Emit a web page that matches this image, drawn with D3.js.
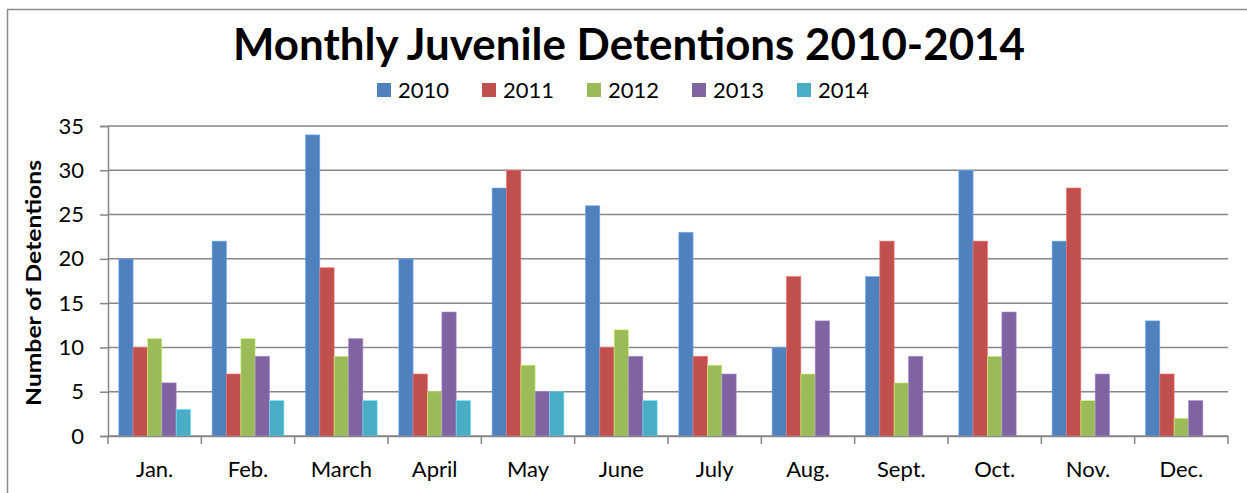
<!DOCTYPE html>
<html>
<head>
<meta charset="utf-8">
<script src="https://cdn.jsdelivr.net/npm/d3@7"></script>
<style>
  html, body { margin: 0; padding: 0; background: #fff; }
  svg { display: block; }
  text { font-family: Lato, "Open Sans", "Liberation Sans", sans-serif; fill: #000; }
</style>
</head>
<body>
<svg id="chart" width="1247" height="493"></svg>
<script>
// Monthly detention counts, one array per year
const months = ["Jan.", "Feb.", "March", "April", "May", "June", "July", "Aug.", "Sept.", "Oct.", "Nov.", "Dec."];
const years = ["2010", "2011", "2012", "2013", "2014"];
const values2010 = [20, 22, 34, 20, 28, 26, 23, 10, 18, 30, 22, 13];
const values2011 = [10, 7, 19, 7, 30, 10, 9, 18, 22, 22, 28, 7];
const values2012 = [11, 11, 9, 5, 8, 12, 8, 7, 6, 9, 4, 2];
const values2013 = [6, 9, 11, 14, 5, 9, 7, 13, 9, 14, 7, 4];
const values2014 = [3, 4, 4, 4, 5, 4, null, null, null, null, null, null];
const yTicks = [0, 5, 10, 15, 20, 25, 30, 35];
const colors = ["#4F81BD", "#C0504D", "#9BBB59", "#8064A2", "#4BACC6"];

const seriesValues = [values2010, values2011, values2012, values2013, values2014];

const svg = d3.select("#chart");
const plot = { left: 108, right: 1228, top: 126, bottom: 436 };

// Outer chart frame
svg.append("rect")
  .attr("x", 7.5).attr("y", 9.5)
  .attr("width", 1260).attr("height", 500)
  .attr("fill", "none").attr("stroke", "#8c8c8c").attr("stroke-width", 1.5);

const x0 = d3.scaleBand().domain(months).range([plot.left, plot.right]).paddingInner(0).paddingOuter(0);
// gap between groups is 1.5 bar widths
const barW = x0.bandwidth() / 6.5;
const x1 = d3.scaleBand().domain(years).range([barW * 0.75, barW * 5.75]);
const y = d3.scaleLinear().domain([0, 35]).range([plot.bottom, plot.top]);

// Horizontal gridlines
svg.append("g")
  .selectAll("line")
  .data(yTicks)
  .join("line")
  .attr("x1", plot.left).attr("x2", plot.right)
  .attr("y1", d => y(d)).attr("y2", d => y(d))
  .attr("stroke", "#878787").attr("stroke-width", 1.5);

// Bars
const groups = svg.append("g")
  .selectAll("g")
  .data(months)
  .join("g")
  .attr("transform", m => `translate(${x0(m)},0)`);

groups.selectAll("rect")
  .data((m, i) => years.map((yr, s) => ({ yr, s, v: seriesValues[s][i] })).filter(d => d.v != null && d.v > 0))
  .join("rect")
  .attr("x", d => x1(d.yr))
  .attr("width", x1.bandwidth())
  .attr("y", d => y(d.v))
  .attr("height", d => y(0) - y(d.v))
  .attr("fill", d => colors[d.s])
  .attr("stroke", d => d3.color(colors[d.s]).brighter(0.9))
  .attr("stroke-width", 0.8)
  .attr("stroke-opacity", 0.7);

// Y axis
const yAxis = svg.append("g")
  .attr("transform", `translate(${plot.left},0)`)
  .call(d3.axisLeft(y).tickValues(yTicks).tickSize(8).tickPadding(16));
yAxis.select(".domain").attr("stroke", "#878787").attr("stroke-width", 1.5);
yAxis.selectAll(".tick line").attr("stroke", "#878787").attr("stroke-width", 1.5);
yAxis.selectAll(".tick text")
  .attr("font-family", "Lato, 'Open Sans', sans-serif")
  .attr("font-size", 22).attr("fill", "#000");

// X axis
const xAxis = svg.append("g")
  .attr("transform", `translate(0,${plot.bottom})`)
  .call(d3.axisBottom(x0).tickSize(0).tickPadding(25));
xAxis.select(".domain").attr("stroke", "#878787").attr("stroke-width", 1.5);
xAxis.selectAll(".tick text")
  .attr("font-family", "Lato, 'Open Sans', sans-serif")
  .attr("font-size", 22).attr("fill", "#000");
// Category separators below the axis
xAxis.append("g")
  .selectAll("line")
  .data(d3.range(months.length + 1))
  .join("line")
  .attr("x1", i => plot.left + i * x0.bandwidth())
  .attr("x2", i => plot.left + i * x0.bandwidth())
  .attr("y1", 0).attr("y2", 8)
  .attr("stroke", "#878787").attr("stroke-width", 1.5);

// Title
svg.append("text")
  .attr("x", 629).attr("y", 60)
  .attr("text-anchor", "middle")
  .attr("font-size", 44).attr("font-weight", "bold")
  .attr("textLength", 792).attr("lengthAdjust", "spacingAndGlyphs")
  .text("Monthly Juvenile Detentions 2010-2014");

// Legend
const legend = svg.append("g")
  .selectAll("g")
  .data(years)
  .join("g")
  .attr("transform", (d, i) => `translate(${377 + i * 105},83)`);
legend.append("rect")
  .attr("width", 14).attr("height", 14)
  .attr("fill", (d, i) => colors[i]);
legend.append("text")
  .attr("x", 21).attr("y", 15)
  .attr("font-size", 22)
  .text(d => d);

// Y axis title
svg.append("text")
  .attr("transform", "translate(41,283) rotate(-90)")
  .attr("text-anchor", "middle")
  .attr("font-size", 20).attr("font-weight", "bold")
  .attr("textLength", 246).attr("lengthAdjust", "spacingAndGlyphs")
  .text("Number of Detentions");
</script>
</body>
</html>
